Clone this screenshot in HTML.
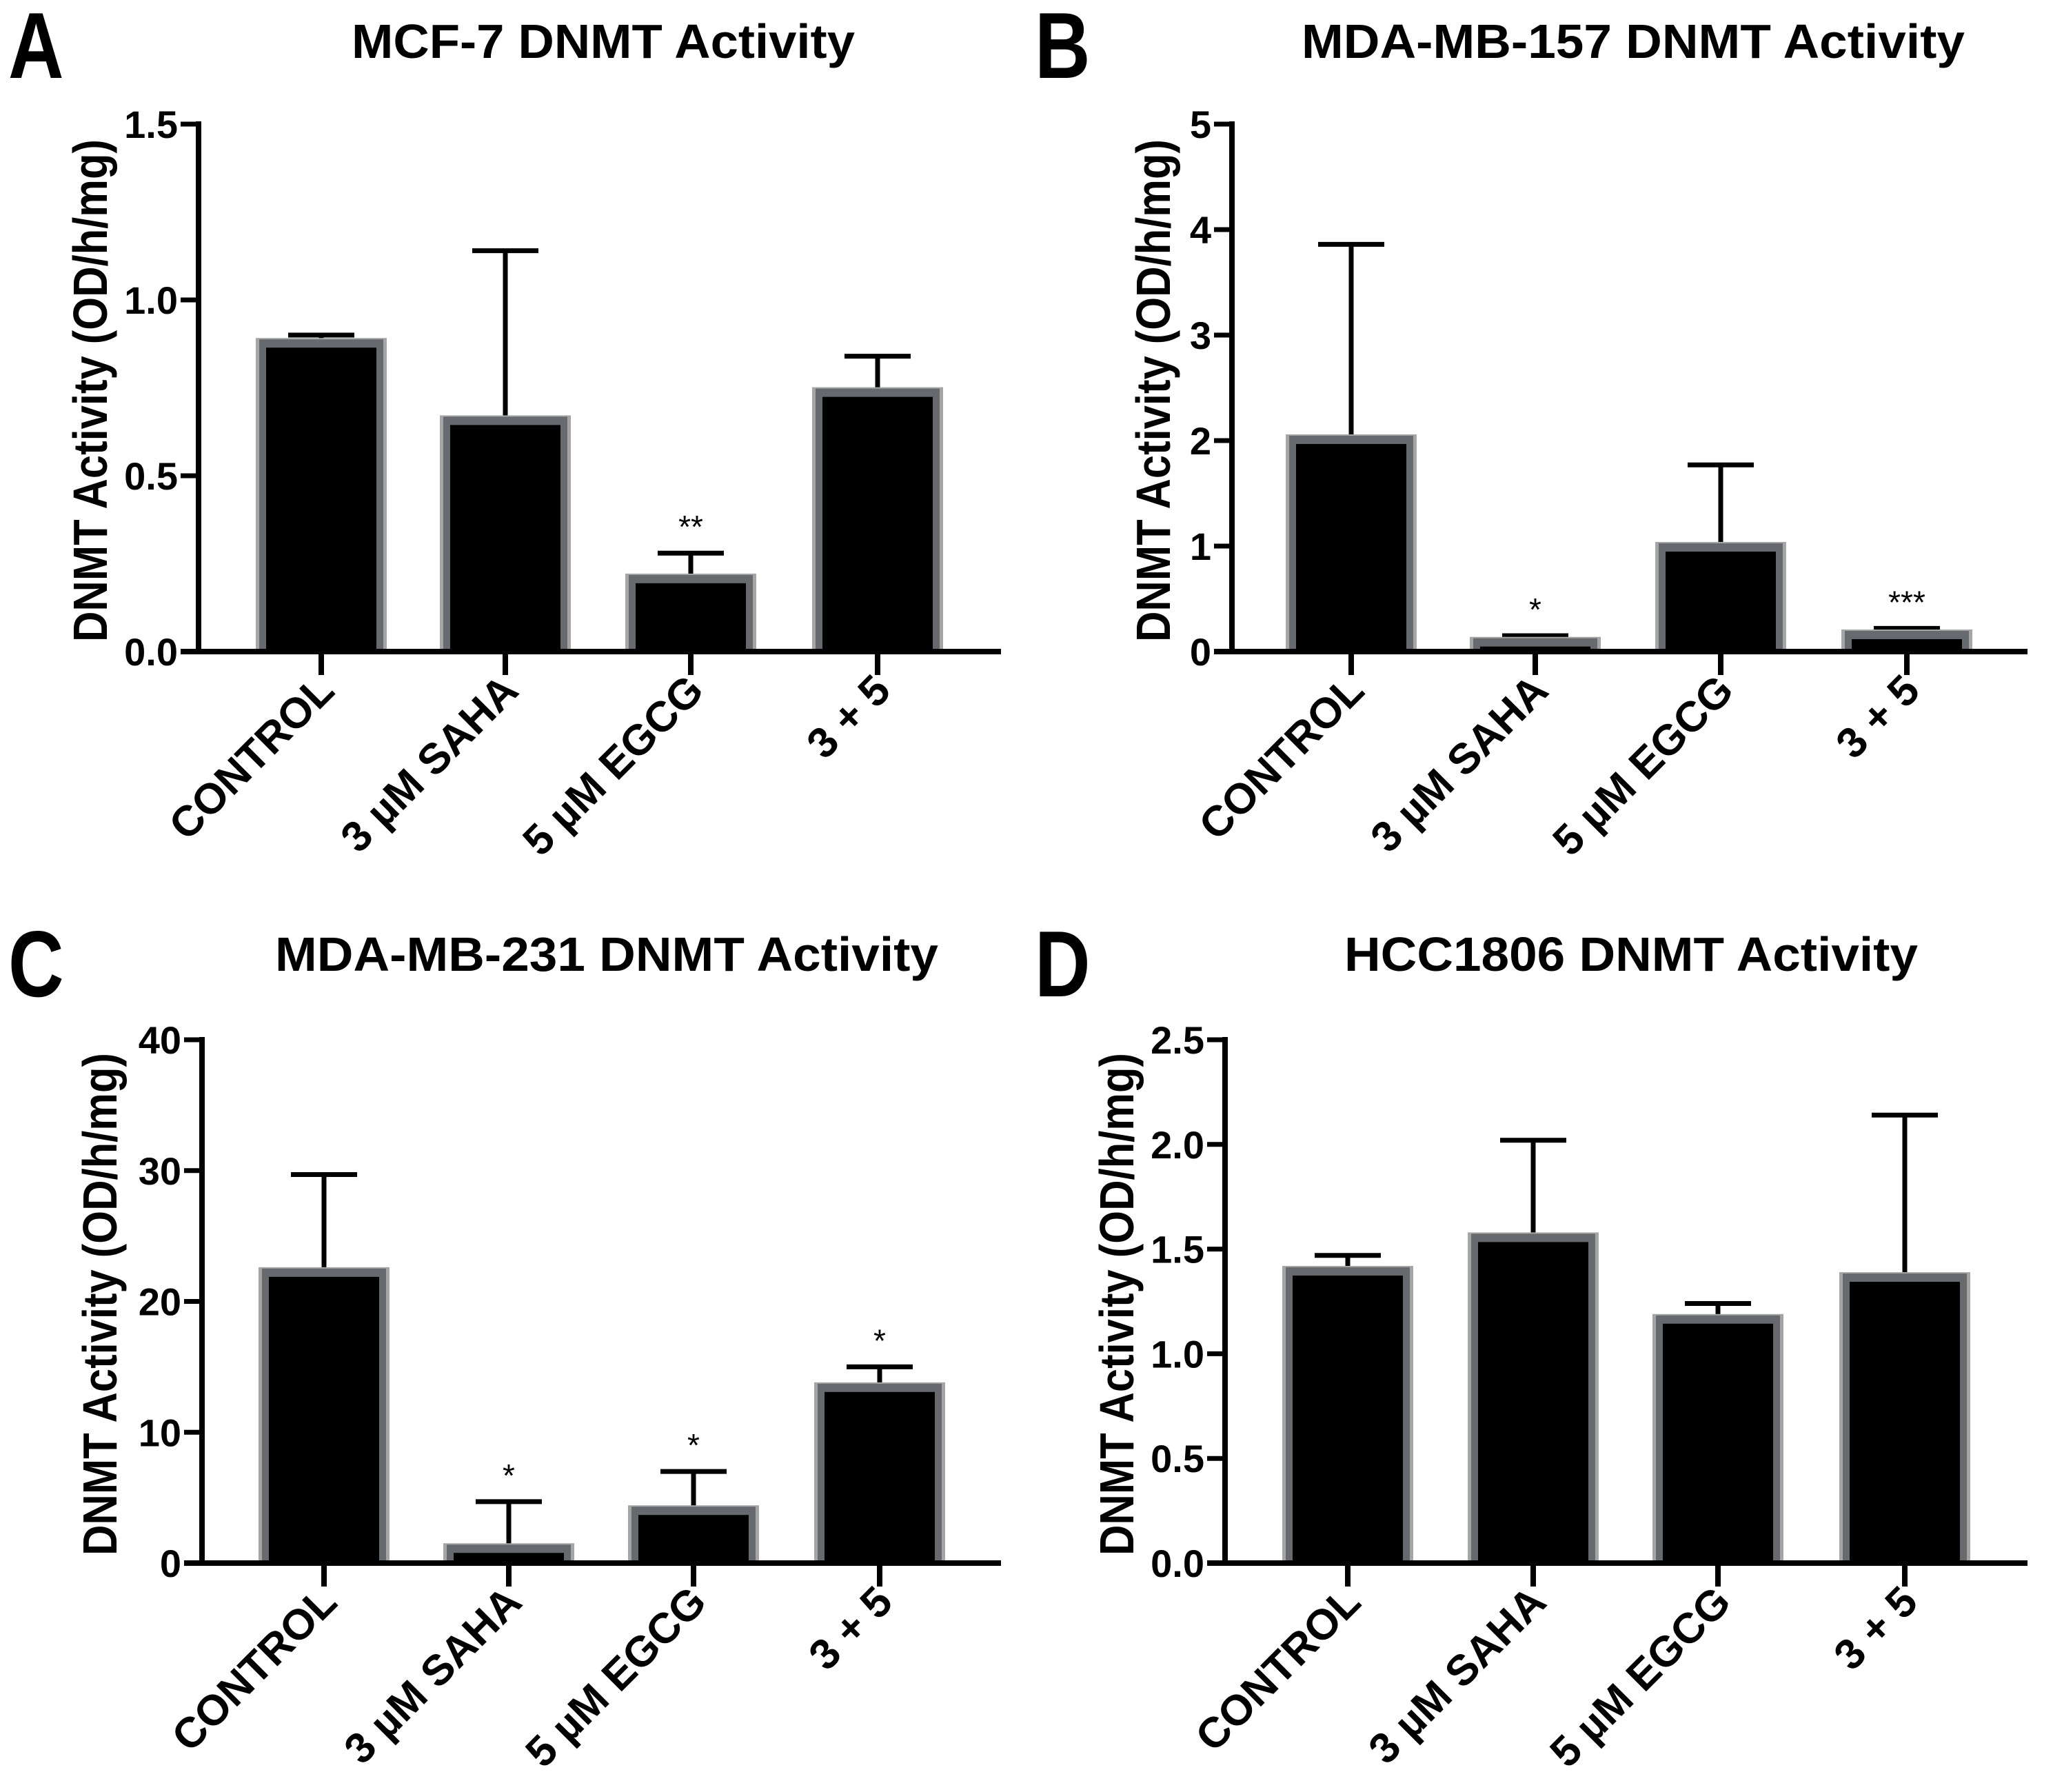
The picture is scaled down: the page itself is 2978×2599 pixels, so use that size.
<!DOCTYPE html>
<html><head><meta charset="utf-8"><style>
html,body{margin:0;padding:0;background:#fff;overflow:hidden;}
svg{display:block;font-family:"Liberation Sans",Arial,sans-serif;font-weight:bold;}
</style></head><body>
<svg id="s" width="2978" height="2599" viewBox="0 0 2978 2599" xmlns="http://www.w3.org/2000/svg"></svg>
<script>
const P=[
 {ox:0,oy:0,L:"A",title:"MCF-7 DNMT Activity",tw:730,tcx:875,tb:84,lb:113,ax:288,top:180,zero:945,yl:130,max:1.5,ticks:[0,0.5,1.0,1.5],fmt:1,
  tk:[466,733,1002,1273],d:[[0.88,0.90],[0.66,1.14],[0.21,0.28,"**"],[0.74,0.84]]},
 {ox:1489,oy:0,L:"B",title:"MDA-MB-157 DNMT Activity",tw:962,tcx:880,tb:84,lb:113,ax:298,top:180,zero:945,yl:183,max:5,ticks:[0,1,2,3,4,5],fmt:0,
  tk:[471,738,1007,1277],d:[[2.02,3.86],[0.10,0.15,"*"],[1.0,1.77],[0.17,0.22,"***"]]},
 {ox:0,oy:1300,L:"C",title:"MDA-MB-231 DNMT Activity",tw:962,tcx:880,tb:108,lb:145,ax:293,top:208,zero:967,yl:144,max:40,ticks:[0,10,20,30,40],fmt:0,
  tk:[470,738,1006,1276],d:[[22.3,29.7],[1.2,4.7,"*"],[4.1,7.0,"*"],[13.5,15.0,"*"]]},
 {ox:1489,oy:1300,L:"D",title:"HCC1806 DNMT Activity",tw:832,tcx:877,tb:108,lb:145,ax:288,top:208,zero:967,yl:130,max:2.5,ticks:[0,0.5,1.0,1.5,2.0,2.5],fmt:1,
  tk:[466,735,1003,1274],d:[[1.40,1.47],[1.56,2.02],[1.17,1.24],[1.37,2.14]]}
];
const cats=["CONTROL","3 \u00B5M SAHA","5 \u00B5M EGCG","3 + 5"];
let h="";
for(const p of P){
 const Y=v=>p.zero-(v/p.max)*(p.zero-p.top);
 h+=`<g transform="translate(${p.ox},${p.oy})">`;
 h+=`<text transform="translate(12,${p.lb}) scale(0.82,1)" font-size="136">${p.L}</text>`;
 h+=`<text x="${p.tcx}" y="${p.tb}" font-size="70" text-anchor="middle" textLength="${p.tw}" lengthAdjust="spacingAndGlyphs">${p.title}</text>`;
 h+=`<text transform="translate(${p.yl+25},${(p.top+p.zero)/2+4}) rotate(-90)" font-size="70" text-anchor="middle" textLength="729" lengthAdjust="spacingAndGlyphs">DNMT Activity (OD/h/mg)</text>`;
 p.d.forEach((b,i)=>{
  const c=p.tk[i],y=Y(b[0]),e=Y(b[1]);
  h+=`<line x1="${c}" y1="${e}" x2="${c}" y2="${y}" stroke="#000" stroke-width="7"/>`;
  h+=`<line x1="${c-48}" y1="${e}" x2="${c+48}" y2="${e}" stroke="#000" stroke-width="7"/>`;
  h+=`<rect x="${c-95}" y="${y-6}" width="190" height="${p.zero-y+6}" fill="#a5a5a5"/>`;
  h+=`<rect x="${c-90}" y="${y-4}" width="180" height="${p.zero-y+4}" fill="#666a6e"/>`;
  h+=`<rect x="${c-80}" y="${y+8}" width="160" height="${Math.max(0,p.zero-y-8)}" fill="#000"/>`;
  if(b[2]) h+=`<text x="${c}" y="${e-22}" font-size="46" font-weight="normal" text-anchor="middle">${b[2]}</text>`;
  h+=`<line x1="${c}" y1="${p.zero}" x2="${c}" y2="${p.zero+34}" stroke="#000" stroke-width="8"/>`;
  h+=`<text transform="translate(${c+22},${p.zero+60}) rotate(-45)" font-size="62" text-anchor="end">${cats[i]}</text>`;
 });
 h+=`<line x1="${p.ax}" y1="${p.top-4}" x2="${p.ax}" y2="${p.zero+4}" stroke="#000" stroke-width="8"/>`;
 h+=`<line x1="${p.ax-26}" y1="${p.zero}" x2="1452" y2="${p.zero}" stroke="#000" stroke-width="8"/>`;
 for(const t of p.ticks){
  const y=Y(t);
  h+=`<line x1="${p.ax-26}" y1="${y}" x2="${p.ax}" y2="${y}" stroke="#000" stroke-width="7"/>`;
  h+=`<text x="${p.ax-30}" y="${y+20}" font-size="56" text-anchor="end">${p.fmt?t.toFixed(1):t}</text>`;
 }
 h+=`</g>`;
}
document.getElementById("s").innerHTML=h;
</script>
</body></html>
